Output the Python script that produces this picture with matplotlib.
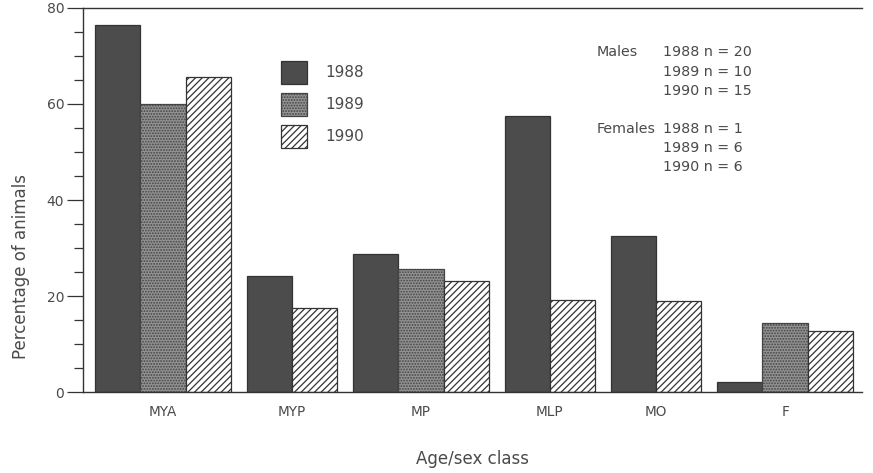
import matplotlib
matplotlib.use("Agg")
import matplotlib.pyplot as plt
from matplotlib.ticker import MultipleLocator

categories = ["MYA", "MYP", "MP", "MLP", "MO", "F"]
years = ["1988", "1989", "1990"]
v1988 = [76.5, 24.2, 28.7, 57.5, 32.4, 2.1]
v1989 = [60.0, None, 25.6, None, None, 14.4]
v1990 = [65.6, 17.5, 23.2, 19.2, 19.0, 12.7]
notes_left = ["Males", "", "", "Females", "", ""]
notes_right = ["1988 n = 20", "1989 n = 10", "1990 n = 15",
               "1988 n = 1", "1989 n = 6", "1990 n = 6"]

plt.rcParams['hatch.linewidth'] = 0.9
plt.rcParams['hatch.color'] = '#3a3a3a'
TXT = '#4a4a4a'

fig = plt.figure(figsize=(8.73, 4.73), dpi=100)
W, H = 873, 473
ax = fig.add_axes([83 / W, 1 - 392 / H, (862 - 83) / W, (392 - 8) / H])

styles = [
    dict(facecolor='#4c4c4c', edgecolor='#333333', hatch=None),
    dict(facecolor='#939393', edgecolor='#444444', hatch='......'),
    dict(facecolor='white', edgecolor='#333333', hatch='/////'),
]
series = [v1988, v1989, v1990]

gap = 0.35
x = 0.0
centers = []
handles = [None, None, None]
for i, cat in enumerate(categories):
    xs = []
    for s, vals in enumerate(series):
        v = vals[i]
        if v is None:
            continue
        b = ax.bar(x, v, width=1.0, linewidth=0.9, **styles[s])
        handles[s] = b
        xs.append(x)
        x += 1.0
    centers.append(sum(xs) / len(xs))
    x += gap

ax.set_xlim(-0.77, x - gap - 0.5 + 0.2)
ax.set_ylim(0, 80)
ax.set_xticks(centers)
ax.set_xticklabels(categories, fontsize=9.8, color=TXT)
ax.tick_params(axis='x', length=0, pad=9)
ax.yaxis.set_major_locator(MultipleLocator(20))
ax.yaxis.set_minor_locator(MultipleLocator(5))
ax.tick_params(axis='y', which='major', length=11.5, width=0.9, labelsize=10,
               labelcolor=TXT, color='#333333', pad=2)
ax.tick_params(axis='y', which='minor', length=6.5, width=0.9, color='#333333')
for sp in ['left', 'bottom', 'top']:
    ax.spines[sp].set_color('#333333')
    ax.spines[sp].set_linewidth(1.0)
ax.spines['right'].set_visible(False)

ax.set_ylabel("Percentage of animals", fontsize=12, color=TXT)
ax.yaxis.set_label_coords(-0.068, 0.326)
ax.set_xlabel("Age/sex class", fontsize=12, color=TXT)
ax.xaxis.set_label_coords(0.5, -0.15)

leg = ax.legend(handles, years, loc='upper left',
                bbox_to_anchor=((270 - 83) / 779, (392 - 50) / 384),
                frameon=False, fontsize=11, handlelength=1.7, handleheight=2.0,
                labelspacing=0.55, handletextpad=1.2, borderpad=0.2)
for t in leg.get_texts():
    t.set_color(TXT)

ys = [52, 72, 91, 129, 148, 167]
for l, r, y in zip(notes_left, notes_right, ys):
    if l:
        fig.text(597 / W, 1 - y / H, l, fontsize=10.3, color=TXT, va='center', ha='left')
    fig.text(663 / W, 1 - y / H, r, fontsize=10.3, color=TXT, va='center', ha='left')

fig.savefig("out.png", dpi=100)
